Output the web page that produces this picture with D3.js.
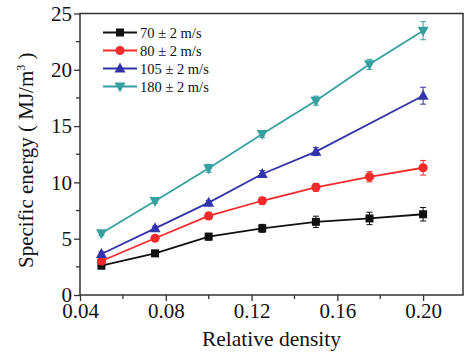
<!DOCTYPE html>
<html>
<head>
<meta charset="utf-8">
<script src="https://cdn.jsdelivr.net/npm/d3@7"></script>
<style>
  body { margin: 0; background: #fff; }
  svg text { font-family: "Liberation Serif", "DejaVu Serif", serif; fill: #111; }
</style>
</head>
<body>
<div id="chart"></div>
<script>
// relative density for each series
const xs70 = [0.05, 0.075, 0.1, 0.125, 0.15, 0.175, 0.2];
const ys70 = [2.6, 3.7, 5.18, 5.92, 6.5, 6.8, 7.17];
const err70 = [0.2, 0.2, 0.3, 0.35, 0.5, 0.55, 0.6];

const xs80 = [0.05, 0.075, 0.1, 0.125, 0.15, 0.175, 0.2];
const ys80 = [3.02, 5.04, 7.02, 8.37, 9.56, 10.5, 11.3];
const err80 = [0.2, 0.2, 0.3, 0.3, 0.35, 0.45, 0.65];

const xs105 = [0.05, 0.075, 0.1, 0.125, 0.15, 0.2];
const ys105 = [3.64, 5.92, 8.2, 10.75, 12.73, 17.7];
const err105 = [0.2, 0.2, 0.2, 0.3, 0.35, 0.75];

const xs180 = [0.05, 0.075, 0.1, 0.125, 0.15, 0.175, 0.2];
const ys180 = [5.48, 8.35, 11.25, 14.3, 17.26, 20.49, 23.47];
const err180 = [0.2, 0.2, 0.35, 0.3, 0.4, 0.45, 0.8];

const seriesNames = ['70 ± 2 m/s', '80 ± 2 m/s', '105 ± 2 m/s', '180 ± 2 m/s'];
const xTicks = [0.04, 0.08, 0.12, 0.16, 0.20];
const yTicks = [0, 5, 10, 15, 20, 25];

const W = 465, H = 354;
const margin = { top: 13.5, right: 2, bottom: 59, left: 80 };

const series = [
  { name: seriesNames[0], xs: xs70, ys: ys70, err: err70, color: '#111111', shape: 'square' },
  { name: seriesNames[1], xs: xs80, ys: ys80, err: err80, color: '#f42a2a', shape: 'circle' },
  { name: seriesNames[2], xs: xs105, ys: ys105, err: err105, color: '#3333aa', shape: 'up' },
  { name: seriesNames[3], xs: xs180, ys: ys180, err: err180, color: '#36a0a0', shape: 'down' }
];

const svg = d3.select('#chart').append('svg')
  .attr('width', W)
  .attr('height', H);

const x = d3.scaleLinear().domain([0.04, 0.2186]).range([margin.left, W - margin.right]);
const y = d3.scaleLinear().domain([0, 25]).range([H - margin.bottom, margin.top]);

// minor ticks
const xMinor = d3.range(0.06, 0.22, 0.04);
const yMinor = d3.range(2.5, 25, 5);

const axisColor = '#333';
const g = svg.append('g');

g.selectAll('.xminor').data(xMinor).enter().append('line')
  .attr('x1', d => x(d)).attr('x2', d => x(d))
  .attr('y1', y(0)).attr('y2', y(0) + 4)
  .attr('stroke', axisColor).attr('stroke-width', 1.3);
g.selectAll('.yminor').data(yMinor).enter().append('line')
  .attr('x1', x(0.04) - 4).attr('x2', x(0.04))
  .attr('y1', d => y(d)).attr('y2', d => y(d))
  .attr('stroke', axisColor).attr('stroke-width', 1.3);

const xAxis = g.append('g')
  .attr('transform', `translate(0,${y(0)})`)
  .call(d3.axisBottom(x).tickValues(xTicks).tickFormat(d3.format('.2f')).tickSize(6).tickPadding(2));
const yAxis = g.append('g')
  .attr('transform', `translate(${x(0.04)},0)`)
  .call(d3.axisLeft(y).tickValues(yTicks).tickSize(6).tickPadding(2));

[xAxis, yAxis].forEach(a => {
  a.select('.domain').remove();
  a.selectAll('line').attr('stroke', axisColor).attr('stroke-width', 1.3);
  a.selectAll('text').style('font-size', '21px').attr('fill', '#111');
});

// frame
g.append('rect')
  .attr('x', x(0.04)).attr('y', y(25))
  .attr('width', x.range()[1] - x(0.04))
  .attr('height', y(0) - y(25))
  .attr('fill', 'none').attr('stroke', axisColor).attr('stroke-width', 1.5);

// axis titles
svg.append('text')
  .attr('x', (x.range()[0] + x.range()[1]) / 2)
  .attr('y', 346)
  .attr('text-anchor', 'middle')
  .style('font-size', '21.5px')
  .text('Relative density');

const yt = svg.append('text')
  .attr('transform', `translate(33,${(y(0) + y(25)) / 2 + 6}) rotate(-90)`)
  .attr('text-anchor', 'middle')
  .style('font-size', '21px');
yt.append('tspan').text('Specific energy ( MJ/m');
yt.append('tspan').attr('dy', -8).style('font-size', '12px').text('3');
yt.append('tspan').attr('dy', 8).text(' )');

function marker(sel, shape, color) {
  if (shape === 'square') {
    sel.append('rect').attr('x', -4).attr('y', -4).attr('width', 8).attr('height', 8).attr('fill', color);
  } else if (shape === 'circle') {
    sel.append('circle').attr('r', 4.6).attr('fill', color);
  } else if (shape === 'up') {
    sel.append('path').attr('d', 'M0,-6L5.5,4L-5.5,4Z').attr('fill', color);
  } else {
    sel.append('path').attr('d', 'M0,6L5.5,-4L-5.5,-4Z').attr('fill', color);
  }
}

const line = d3.line().x(d => x(d[0])).y(d => y(d[1]));

series.forEach(s => {
  const pts = s.xs.map((v, i) => [v, s.ys[i], s.err[i]]);
  const sg = svg.append('g');
  // error bars
  pts.forEach(p => {
    const cx = x(p[0]);
    sg.append('line').attr('x1', cx).attr('x2', cx).attr('y1', y(p[1] - p[2])).attr('y2', y(p[1] + p[2]))
      .attr('stroke', s.color).attr('stroke-width', 1);
    [p[1] - p[2], p[1] + p[2]].forEach(v => {
      sg.append('line').attr('x1', cx - 3).attr('x2', cx + 3).attr('y1', y(v)).attr('y2', y(v))
        .attr('stroke', s.color).attr('stroke-width', 1);
    });
  });
  sg.append('path').datum(pts).attr('d', line)
    .attr('fill', 'none').attr('stroke', s.color).attr('stroke-width', 1.8);
  pts.forEach(p => {
    const m = sg.append('g').attr('transform', `translate(${x(p[0])},${y(p[1])})`);
    marker(m, s.shape, s.color);
  });
});

// legend
const legend = svg.append('g');
series.forEach((s, i) => {
  const ly = 32.5 + i * 18;
  legend.append('line').attr('x1', 103).attr('x2', 137).attr('y1', ly).attr('y2', ly)
    .attr('stroke', s.color).attr('stroke-width', 1.8);
  marker(legend.append('g').attr('transform', `translate(120,${ly})`), s.shape, s.color);
  legend.append('text').attr('x', 140).attr('y', ly + 5)
    .style('font-size', '14.5px').text(s.name);
});
</script>
</body>
</html>
